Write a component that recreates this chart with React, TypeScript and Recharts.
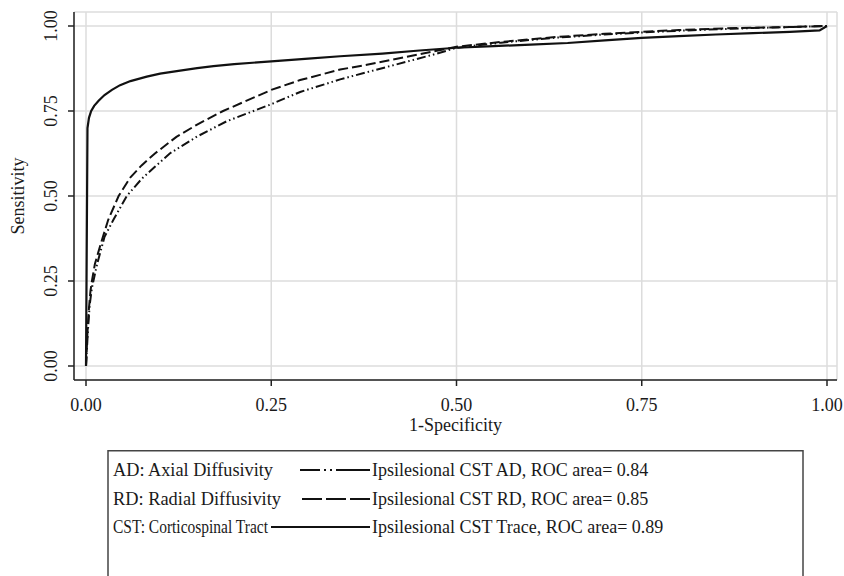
import { LineChart, Line, XAxis, YAxis, CartesianGrid } from 'recharts';

const FONT = '"Liberation Serif", "Times New Roman", serif';
const INK = '#1a1a1a';

const axisTicks = [0, 0.25, 0.5, 0.75, 1];

// Ipsilesional CST Trace (solid)
const traceFpr = [0, 0.002, 0.004, 0.007, 0.011, 0.017, 0.025, 0.035, 0.046, 0.06, 0.082, 0.1, 0.127, 0.15, 0.172, 0.2, 0.25, 0.3, 0.343, 0.4, 0.45, 0.5, 0.55, 0.6, 0.65, 0.7, 0.75, 0.8, 0.85, 0.9, 0.95, 0.99, 1];
const traceTpr = [0, 0.7, 0.73, 0.75, 0.765, 0.78, 0.797, 0.812, 0.826, 0.838, 0.851, 0.86, 0.869, 0.876, 0.882, 0.888, 0.896, 0.904, 0.911, 0.919, 0.928, 0.936, 0.941, 0.945, 0.95, 0.958, 0.965, 0.97, 0.975, 0.979, 0.983, 0.987, 1];

// Ipsilesional CST RD (long dash)
const rdFpr = [0, 0.001, 0.002, 0.004, 0.006, 0.008, 0.012, 0.02, 0.03, 0.044, 0.06, 0.075, 0.093, 0.122, 0.15, 0.185, 0.25, 0.289, 0.343, 0.379, 0.469, 0.5, 0.56, 0.63, 0.7, 0.75, 0.8, 0.86, 0.9, 0.95, 1];
const rdTpr = [0, 0.05, 0.1, 0.17, 0.22, 0.25, 0.3, 0.36, 0.43, 0.5, 0.555, 0.59, 0.625, 0.674, 0.71, 0.75, 0.812, 0.841, 0.872, 0.886, 0.925, 0.939, 0.953, 0.967, 0.977, 0.983, 0.988, 0.993, 0.995, 0.997, 1];

// Ipsilesional CST AD (dash-dot-dot)
const adFpr = [0, 0.001, 0.003, 0.005, 0.008, 0.01, 0.015, 0.025, 0.037, 0.055, 0.075, 0.093, 0.113, 0.15, 0.19, 0.226, 0.25, 0.289, 0.343, 0.379, 0.469, 0.5, 0.56, 0.63, 0.7, 0.75, 0.8, 0.86, 0.9, 0.95, 1];
const adTpr = [0, 0.04, 0.12, 0.18, 0.23, 0.25, 0.3, 0.38, 0.43, 0.5, 0.55, 0.586, 0.625, 0.675, 0.72, 0.75, 0.77, 0.806, 0.843, 0.864, 0.916, 0.936, 0.951, 0.965, 0.975, 0.981, 0.986, 0.991, 0.994, 0.997, 1];

const legendLeft = ['AD: Axial Diffusivity', 'RD: Radial Diffusivity', 'CST: Corticospinal Tract'];
const legendRight = [
  'Ipsilesional CST AD, ROC area= 0.84',
  'Ipsilesional CST RD, ROC area= 0.85',
  'Ipsilesional CST Trace, ROC area= 0.89',
];

const toPoints = (fpr: number[], tpr: number[]) => fpr.map((x, i) => ({ x, y: tpr[i] }));

const tracePts = toPoints(traceFpr, traceTpr);
const rdPts = toPoints(rdFpr, rdTpr);
const adPts = toPoints(adFpr, adTpr);

const AD_DASH = '9 3 1.5 3 1.5 3';
const RD_DASH = '10 4';

const YTick = ({ x, y, payload }: any) => (
  <text
    x={x}
    y={y}
    transform={`rotate(-90 ${x} ${y})`}
    textAnchor="middle"
    fontSize={18}
    fontFamily={FONT}
    fill={INK}
  >
    {Number(payload.value).toFixed(2)}
  </text>
);

const YLabel = ({ viewBox, value }: any) => {
  const cx = 24;
  const cy = viewBox.y + viewBox.height / 2;
  return (
    <text x={cx} y={cy} transform={`rotate(-90 ${cx} ${cy})`} textAnchor="middle" fontSize={18} fontFamily={FONT} fill={INK}>
      {value}
    </text>
  );
};

const XLabel = ({ viewBox, value }: any) => (
  <text x={viewBox.x + viewBox.width / 2} y={viewBox.y + 51} textAnchor="middle" fontSize={18} fontFamily={FONT} fill={INK}>
    {value}
  </text>
);

function LegendBox() {
  const rows = [476, 505, 533];
  const lineY = [470, 499, 527];
  const leftWidths = [160, 168, 155];
  return (
    <svg width={844} height={126} style={{ position: 'absolute', left: 0, top: 450 }}>
      <rect x={108} y={0.75} width={695} height={140} fill="none" stroke="#444" strokeWidth={1.5} />
      {legendLeft.map((t, i) => (
        <text
          key={t}
          x={113}
          y={rows[i] - 450}
          fontSize={18}
          fontFamily={FONT}
          fill={INK}
          textLength={leftWidths[i]}
          lengthAdjust="spacingAndGlyphs"
        >
          {t}
        </text>
      ))}
      <line x1={300} x2={370} y1={lineY[0] - 450} y2={lineY[0] - 450} stroke="#111" strokeWidth={2.2} strokeDasharray="20 4 2 4 2 4 34" />
      <line x1={302} x2={370} y1={lineY[1] - 450} y2={lineY[1] - 450} stroke="#111" strokeWidth={2.2} strokeDasharray="20 4 20 4 20" />
      <line x1={271} x2={370} y1={lineY[2] - 450} y2={lineY[2] - 450} stroke="#111" strokeWidth={2.2} />
      {legendRight.map((t, i) => (
        <text key={t} x={372} y={rows[i] - 450} fontSize={18} fontFamily={FONT} fill={INK}>
          {t}
        </text>
      ))}
    </svg>
  );
}

export default function App() {
  return (
    <div style={{ position: 'relative', width: 844, height: 576, overflow: 'hidden', background: '#fff' }}>
      <style>{'body{margin:0;}'}</style>
      <LineChart width={844} height={440} margin={{ top: 12, right: 7, bottom: 10, left: 0 }}>
        <CartesianGrid stroke="#dcdcdc" strokeWidth={1.5} />
        <XAxis
          dataKey="x"
          type="number"
          domain={[0, 1]}
          ticks={axisTicks}
          padding={{ left: 12, right: 10 }}
          tickFormatter={(v: number) => v.toFixed(2)}
          tick={{ fontSize: 18, fontFamily: FONT, fill: INK }}
          tickSize={6}
          tickMargin={12}
          height={50}
          axisLine={{ stroke: '#222', strokeWidth: 1.5 }}
          tickLine={{ stroke: '#222', strokeWidth: 1.5 }}
          label={{ value: '1-Specificity', content: <XLabel /> }}
        />
        <XAxis
          xAxisId="top"
          orientation="top"
          type="number"
          domain={[0, 1]}
          padding={{ left: 12, right: 10 }}
          height={0}
          tick={false}
          tickLine={false}
          axisLine={{ stroke: '#222', strokeWidth: 1.5 }}
        />
        <YAxis
          type="number"
          domain={[0, 1]}
          ticks={axisTicks}
          padding={{ top: 14, bottom: 14 }}
          width={74}
          tick={<YTick />}
          tickSize={6}
          tickMargin={11}
          axisLine={{ stroke: '#222', strokeWidth: 1.5 }}
          tickLine={{ stroke: '#222', strokeWidth: 1.5 }}
          label={{ value: 'Sensitivity', content: <YLabel /> }}
        />
        <YAxis
          yAxisId="right"
          orientation="right"
          type="number"
          domain={[0, 1]}
          padding={{ top: 14, bottom: 14 }}
          width={0}
          tick={false}
          tickLine={false}
          axisLine={{ stroke: '#222', strokeWidth: 1.5 }}
        />
        <Line data={adPts} dataKey="y" type="linear" dot={false} stroke="#111" strokeWidth={2} strokeDasharray={AD_DASH} isAnimationActive={false} />
        <Line data={rdPts} dataKey="y" type="linear" dot={false} stroke="#111" strokeWidth={2} strokeDasharray={RD_DASH} isAnimationActive={false} />
        <Line data={tracePts} dataKey="y" type="linear" dot={false} stroke="#111" strokeWidth={2.2} isAnimationActive={false} />
      </LineChart>
      <LegendBox />
    </div>
  );
}
